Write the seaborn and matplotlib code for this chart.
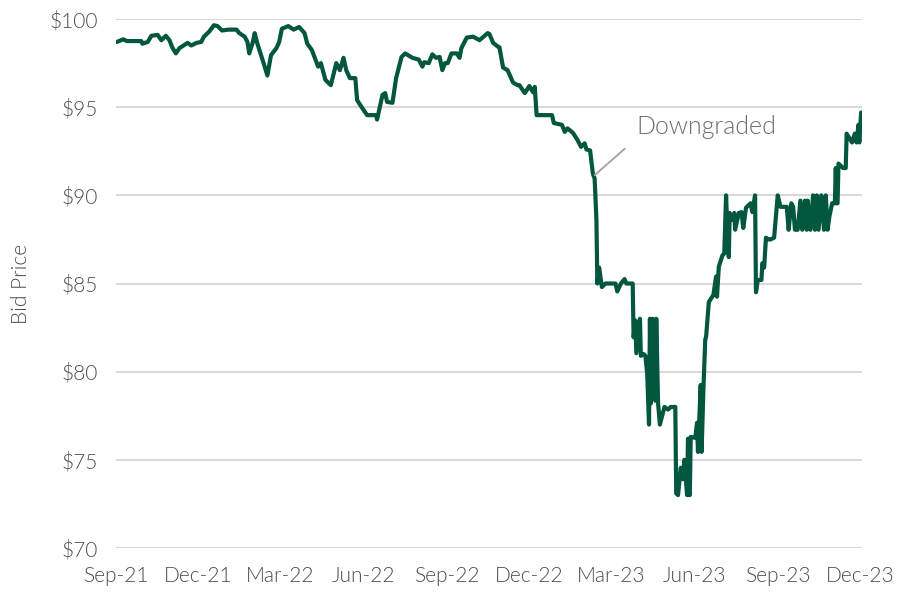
import pandas as pd
import matplotlib
matplotlib.use("Agg")
import matplotlib.pyplot as plt
import matplotlib.dates as mdates
from matplotlib.ticker import FuncFormatter
import seaborn as sns

# bid price readings
dates_2021 = ["2021-09-02", "2021-09-09", "2021-09-13", "2021-09-29", "2021-09-30", "2021-10-06",
              "2021-10-10", "2021-10-17", "2021-10-21", "2021-10-26", "2021-10-30", "2021-11-02",
              "2021-11-06", "2021-11-10", "2021-11-13", "2021-11-19", "2021-11-23", "2021-11-29",
              "2021-12-04", "2021-12-07", "2021-12-13", "2021-12-18", "2021-12-22", "2021-12-27"]
prices_2021 = [98.7, 98.85, 98.75, 98.75, 98.6, 98.7,
               99.05, 99.1, 98.8, 99.05, 98.8, 98.4,
               98.05, 98.35, 98.45, 98.65, 98.5, 98.65,
               98.7, 99.0, 99.3, 99.65, 99.6, 99.35]

dates_2022 = ["2022-01-03", "2022-01-12", "2022-01-15", "2022-01-21", "2022-01-24", "2022-01-26",
              "2022-01-30", "2022-02-01", "2022-02-04", "2022-02-09", "2022-02-15", "2022-02-19",
              "2022-02-25", "2022-02-28", "2022-03-03", "2022-03-10", "2022-03-16", "2022-03-22",
              "2022-03-28", "2022-03-31", "2022-04-05", "2022-04-12", "2022-04-15", "2022-04-20",
              "2022-04-26", "2022-05-02", "2022-05-06", "2022-05-10", "2022-05-13", "2022-05-17",
              "2022-05-23", "2022-05-25", "2022-05-30", "2022-06-05", "2022-06-15", "2022-06-16",
              "2022-06-22", "2022-06-25", "2022-06-27", "2022-07-03", "2022-07-07", "2022-07-13",
              "2022-07-17", "2022-07-25", "2022-08-01", "2022-08-05", "2022-08-07", "2022-08-12",
              "2022-08-16", "2022-08-20", "2022-08-24", "2022-08-27", "2022-08-30", "2022-09-02",
              "2022-09-06", "2022-09-12", "2022-09-15", "2022-09-17", "2022-09-23", "2022-09-30",
              "2022-10-07", "2022-10-16", "2022-10-18", "2022-10-22", "2022-10-27", "2022-10-29",
              "2022-11-02", "2022-11-07", "2022-11-13", "2022-11-18", "2022-11-20", "2022-11-26",
              "2022-12-01", "2022-12-05", "2022-12-07", "2022-12-09", "2022-12-26", "2022-12-28"]
prices_2022 = [99.4, 99.4, 99.2, 99.0, 98.7, 98.05,
               98.7, 99.2, 98.6, 97.8, 96.8, 97.95,
               98.35, 98.7, 99.45, 99.6, 99.4, 99.55,
               99.2, 98.6, 98.25, 97.3, 97.5, 96.55,
               96.25, 97.5, 97.1, 97.8, 97.1, 96.65,
               96.65, 95.4, 95.0, 94.55, 94.55, 94.3,
               95.7, 95.8, 95.3, 95.25, 96.65, 97.85,
               98.05, 97.8, 97.7, 97.3, 97.55, 97.5,
               98.0, 97.8, 97.85, 97.1, 97.5, 97.5,
               98.05, 98.05, 97.8, 98.35, 98.95, 99.0,
               98.8, 99.2, 99.15, 98.65, 98.45, 98.4,
               97.25, 97.1, 96.4, 96.25, 96.25, 95.8,
               96.2, 95.85, 96.15, 94.55, 94.55, 94.1]

dates_2023 = ["2023-01-06", "2023-01-09", "2023-01-12", "2023-01-18", "2023-01-23", "2023-01-27",
              "2023-01-31", "2023-02-02", "2023-02-06", "2023-02-09", "2023-02-11", "2023-02-13",
              "2023-02-14", "2023-02-16", "2023-02-19", "2023-02-23", "2023-03-06", "2023-03-08",
              "2023-03-12", "2023-03-16", "2023-03-18", "2023-03-25", "2023-03-26", "2023-03-28",
              "2023-03-29", "2023-04-02", "2023-04-03", "2023-04-06", "2023-04-08", "2023-04-10",
              "2023-04-12", "2023-04-13", "2023-04-14", "2023-04-16", "2023-04-19", "2023-04-20",
              "2023-04-22", "2023-04-24", "2023-04-27", "2023-04-29", "2023-05-03", "2023-05-06",
              "2023-05-11", "2023-05-12", "2023-05-14", "2023-05-17", "2023-05-19", "2023-05-21",
              "2023-05-24", "2023-05-25", "2023-05-27", "2023-05-28", "2023-06-02", "2023-06-04",
              "2023-06-05", "2023-06-08", "2023-06-09", "2023-06-11", "2023-06-13", "2023-06-14",
              "2023-06-17", "2023-06-22", "2023-06-25", "2023-06-26", "2023-06-28", "2023-07-02",
              "2023-07-04", "2023-07-06", "2023-07-07", "2023-07-09", "2023-07-10", "2023-07-12",
              "2023-07-15", "2023-07-16", "2023-07-20", "2023-07-23", "2023-07-25", "2023-07-28",
              "2023-08-02", "2023-08-04", "2023-08-07", "2023-08-08", "2023-08-10", "2023-08-14",
              "2023-08-15", "2023-08-17", "2023-08-19", "2023-08-22", "2023-08-24", "2023-08-28",
              "2023-09-01", "2023-09-04", "2023-09-11", "2023-09-13", "2023-09-16", "2023-09-18",
              "2023-09-20", "2023-09-23", "2023-09-26", "2023-09-28", "2023-10-01", "2023-10-03",
              "2023-10-04", "2023-10-07", "2023-10-10", "2023-10-12", "2023-10-14", "2023-10-16",
              "2023-10-19", "2023-10-22", "2023-10-24", "2023-10-26", "2023-10-28", "2023-10-31",
              "2023-11-03", "2023-11-04", "2023-11-05", "2023-11-06", "2023-11-07", "2023-11-12",
              "2023-11-15", "2023-11-16", "2023-11-22", "2023-11-25", "2023-11-27", "2023-11-29",
              "2023-11-30", "2023-12-02"]
prices_2023 = [94.0, 93.6, 93.8, 93.55, 93.15, 92.75,
               92.95, 92.6, 92.55, 91.25, 90.95, 88.6,
               85.0, 85.9, 84.8, 85.0, 85.0, 84.55,
               85.0, 85.25, 85.0, 85.0, 81.95, 82.9,
               81.05, 83.0, 80.9, 81.0, 80.9, 79.9,
               77.0, 83.0, 78.2, 83.0, 78.35, 83.0,
               78.2, 77.0, 77.6, 78.0, 77.85, 78.0,
               78.0, 73.1, 73.0, 74.55, 73.9, 75.0,
               73.0, 76.2, 73.0, 76.3, 76.25, 77.1,
               75.45, 79.25, 75.45, 79.0, 81.8, 82.0,
               83.95, 84.35, 85.4, 84.25, 85.95, 86.6,
               86.7, 90.0, 88.6, 86.5, 89.0, 88.6,
               89.0, 88.05, 89.0, 89.05, 88.15, 89.3,
               89.55, 89.05, 90.0, 84.5, 85.2, 85.2,
               86.15, 85.9, 87.6, 87.5, 87.5, 87.6,
               90.0, 89.35, 89.35, 88.05, 89.55, 89.35,
               88.05, 88.05, 89.7, 88.05, 89.7, 88.05,
               89.7, 88.05, 90.0, 88.05, 90.0, 88.05,
               90.0, 88.05, 90.0, 88.05, 88.8, 89.55,
               89.55, 91.55, 89.55, 89.55, 91.8, 91.55,
               91.55, 93.5, 93.0, 93.5, 93.0, 94.0,
               93.0, 94.7]

tick_dates = ["2021-09-01", "2021-12-01", "2022-03-01", "2022-06-01", "2022-09-01",
              "2022-12-01", "2023-03-01", "2023-06-01", "2023-09-01", "2023-12-01"]
y_ticks = [70, 75, 80, 85, 90, 95, 100]

note_text = "Downgraded"
note_date = "2023-02-10"
note_price = 91.1
note_text_date = "2023-03-29"
note_text_price = 93.9

df = pd.DataFrame({
    "date": pd.to_datetime(dates_2021 + dates_2022 + dates_2023),
    "price": prices_2021 + prices_2022 + prices_2023,
})

sns.set_theme(style="white")
plt.rcParams["font.family"] = ["Lato", "DejaVu Sans"]
plt.rcParams["font.weight"] = 300

grey = "#4d4d4d"
fig = plt.figure(figsize=(9.02, 5.95), dpi=100)
ax = fig.add_axes([0.1286, 0.079, 0.8271, 0.889])

sns.lineplot(data=df, x="date", y="price", ax=ax, color="#03573f", linewidth=3.0)

ax.set_ylim(70, 100)
ax.set_xlim(pd.Timestamp("2021-09-01"), pd.Timestamp("2023-12-03"))
ax.set_yticks(y_ticks)
ax.yaxis.set_major_formatter(FuncFormatter(lambda v, p: f"${v:.0f}"))
ax.set_xticks(pd.to_datetime(tick_dates))
ax.xaxis.set_major_formatter(mdates.DateFormatter("%b-%y"))

ax.grid(axis="y", color="#d9d9d9", linewidth=1.5)
ax.set_axisbelow(True)
for s in ax.spines.values():
    s.set_visible(False)
ax.tick_params(axis="both", length=0, labelsize=15, labelcolor=grey)
ax.tick_params(axis="y", pad=13)
ax.tick_params(axis="x", pad=13)
for lab in ax.get_xticklabels() + ax.get_yticklabels():
    lab.set_fontweight(300)

ax.set_xlabel("")
ax.set_ylabel("Bid Price", fontsize=15, color=grey, fontweight=300, labelpad=13)

ax.annotate(note_text, xy=(pd.Timestamp(note_date), note_price),
            xytext=(pd.Timestamp(note_text_date), note_text_price),
            ha="left", va="center", fontsize=18, color="#6e6e6e", fontweight=300,
            arrowprops=dict(arrowstyle="-", color="#a6a6a6", lw=1.4,
                            relpos=(0, 0), shrinkA=8, shrinkB=1))

fig.savefig("out.png", dpi=100)
